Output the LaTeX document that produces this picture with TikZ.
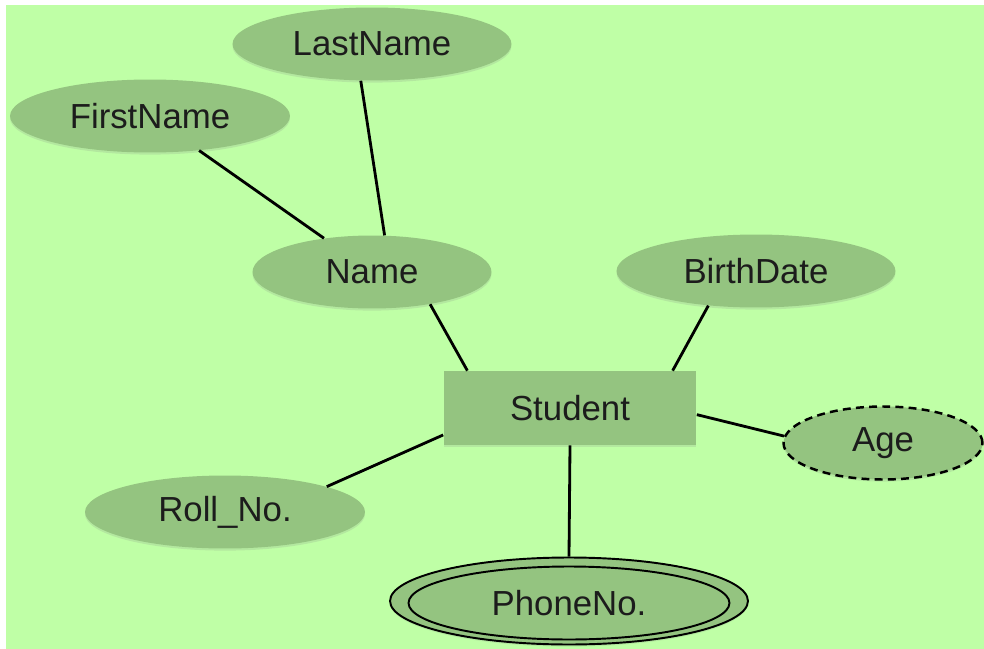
\documentclass[tikz,border=0pt]{standalone}
\usepackage{fontspec}
\setmainfont{Liberation Sans}
\usetikzlibrary{shapes.geometric,shadows}
\definecolor{bggreen}{RGB}{191,255,166}
\definecolor{attrgreen}{RGB}{148,196,128}
\definecolor{inkgray}{RGB}{28,28,28}
\begin{document}
\begin{tikzpicture}[x=0.02cm,y=-0.02cm,
        every node/.style = {text=inkgray,
            font=\fontsize{19.8}{23}\selectfont,
            inner sep=0pt},
        attr/.style = {ellipse,
            fill=attrgreen,
            minimum width=5.6cm,
            minimum height=1.46cm,
            drop shadow={shadow xshift=0pt, shadow yshift=-1.2pt, opacity=0.18},
        },
        entity/.style = {rectangle,
            fill=attrgreen,
            minimum width=5.06cm,
            minimum height=1.48cm,
            drop shadow={shadow xshift=0pt, shadow yshift=-1.2pt, opacity=0.18},
        },
        link/.style = {line width=1.6pt, black}]

    % Background
    \useasboundingbox (0,0) rectangle (984,649);
    \fill[white] (-20,-20) rectangle (1010,680);
    \fill[bggreen] (6,5) rectangle (1010,680);

    % Entity
    \node[entity] (Student) at (570,408) {Student};

    % Attributes
    \node[attr] (FirstName) at (150,116) {FirstName};
    \node[attr,minimum width=5.58cm] (LastName) at (372,44) {LastName};
    \node[attr,minimum width=4.78cm] (Name) at (372,272) {Name};
    \node[attr,minimum width=5.58cm] (BirthDate) at (756,271) {BirthDate};
    \node[attr] (RollNo) at (225,512) {Roll\_No.};

    % Derived attribute
    \node[attr,draw,dashed,dash pattern=on 4.5pt off 3pt,line width=1.4pt,
        minimum width=3.98cm,minimum height=1.46cm] (Age) at (883,443) {Age};

    % Multivalued attribute
    \node[attr,draw,line width=1.1pt,minimum width=7.16cm,minimum height=1.74cm] (PhoneNo) at (569,601) {};
    \node[ellipse,draw,line width=1.1pt,minimum width=6.42cm,minimum height=1.46cm] (PhoneNoIn) at (569,603) {PhoneNo.};

    % Links
    \draw[link] (FirstName) -- (Name);
    \draw[link] (LastName.253) -- (Name.71);
    \draw[link] (Name.-29) -- (Student.160);
    \draw[link] (BirthDate.-144) -- (Student.20);
    \draw[link] (Student.-3) -- (Age.176);
    \draw[link] (Student.192) -- (RollNo.14);
    \draw[link] (Student.south) -- (PhoneNo.north);

\end{tikzpicture}
\end{document}
